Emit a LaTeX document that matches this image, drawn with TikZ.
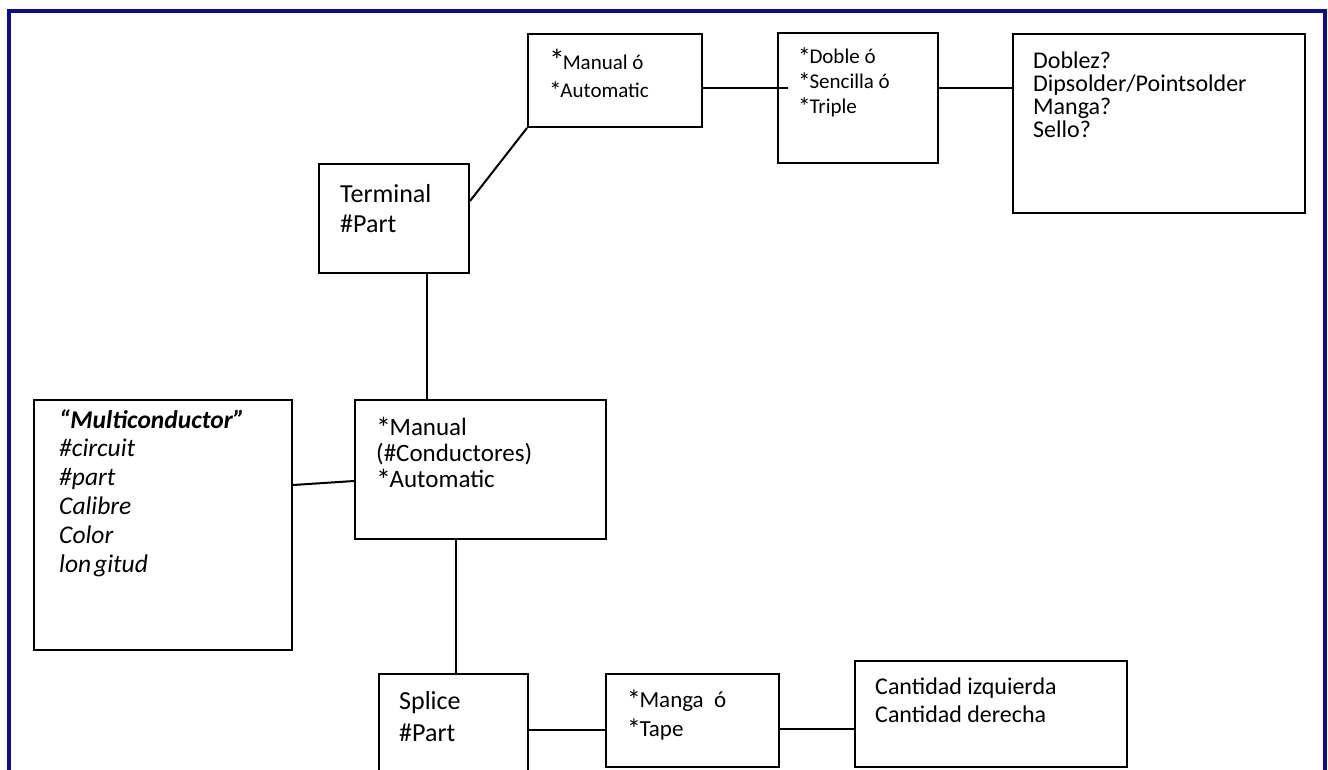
\documentclass[tikz,border=0pt]{standalone}
\usepackage{fontspec}
\usepackage{graphicx}
\setmainfont{Carlito}
\usetikzlibrary{calc}
\definecolor{framecol}{RGB}{12,12,140}
\newcommand{\myast}{\raisebox{-0.12em}{\scalebox{1.2}{*}}\kern-0.06em}
\newcommand{\myastbig}{\raisebox{-0.1em}{\scalebox{1.5}{*}}\kern-0.1em}
\tikzset{
  box/.style={draw=black, line width=2pt, rectangle, inner sep=0pt, anchor=north west},
  conn/.style={draw=black, line width=2pt},
  txt/.style={inner sep=0pt, anchor=base west},
  fr/.style={draw=framecol, line width=4pt},
}
\begin{document}
\begin{tikzpicture}[x=1pt,y=-1pt]
\useasboundingbox (0,0) rectangle (1328,769);
\clip (0,0) rectangle (1328,769);
\draw[fr] (9,10.5) rectangle (1324.5,800);

% boxes
\node[box, minimum width=174pt, minimum height=93pt]  (mo)     at (527,33)  {};
\node[box, minimum width=160pt, minimum height=130pt] (doble)  at (777,32)  {};
\node[box, minimum width=292pt, minimum height=179pt] (doblez) at (1012,33) {};
\node[box, minimum width=150pt, minimum height=109pt] (term)   at (318,163) {};
\node[box, minimum width=258pt, minimum height=250pt] (multi)  at (33,399)  {};
\node[box, minimum width=251pt, minimum height=139pt] (man)    at (354,399) {};
\node[box, minimum width=149pt, minimum height=127pt] (splice) at (378,673) {};
\node[box, minimum width=173pt, minimum height=93pt]  (manga)  at (605,673) {};
\node[box, minimum width=272pt, minimum height=106pt] (cant)   at (854,660) {};

% connectors
\draw[conn] ([yshift=17.5pt]term.east) -- (mo.south west);
\draw[conn] (mo.east) ++(0,7.5) coordinate (c1) -- ($(c1 -| doble.west)+(11,0)$);
\draw[conn] (doble.east) ++(0,-10) coordinate (c2) -- (c2 -| doblez.west);
\draw[conn] (term.south) ++(33,0) coordinate (c3) -- (c3 |- man.north);
\draw[conn] (multi.east) ++(0,-40) coordinate (c7) -- ([yshift=-11.5pt]man.west);
\draw[conn] (man.south) ++(-24.5,0) coordinate (c4) -- (c4 |- splice.north);
\draw[conn] (splice.east) ++(0,-7.5) coordinate (c5) -- (c5 -| manga.west);
\draw[conn] (manga.east) ++(0,8.5) coordinate (c6) -- (c6 -| cant.west);

% texts
\node[txt, font=\fontsize{21}{25}\selectfont] (mo0) at (549,69) {\myastbig Manual ó};
\node[txt, font=\fontsize{21}{25}\selectfont] (mo1) at (549,97) {\myast Automatic};

\foreach \t [count=\i from 0] in {{\myast Doble ó},{\myast Sencilla ó},{\myast Triple}}
  \node[txt, font=\fontsize{21}{25}\selectfont] (db\i) at (798,63+25*\i) {\t};

\foreach \t [count=\i from 0] in {{Doblez?},{Dipsolder/Pointsolder},{Manga?},{Sello?}}
  \node[txt, font=\fontsize{24}{28}\selectfont] (dz\i) at (1033,68+23.3*\i) {\t};

\node[txt, font=\fontsize{26}{30}\selectfont] (tm0) at (340,202) {Terminal};
\node[txt, font=\fontsize{26}{30}\selectfont] (tm1) at (340,232) {\#Part};

\node[txt, font=\fontsize{25.5}{29}\selectfont\bfseries\itshape] (mc0) at (59,428) {“Multiconductor”};
\foreach \t [count=\i from 1] in {{\#circuit},{\#part},{Calibre},{Color},{lon\kern3pt gitud}}
  \node[txt, font=\fontsize{25.5}{29}\selectfont\itshape] (mc\i) at (59,428+28.8*\i) {\t};

\node[txt, font=\fontsize{25}{29}\selectfont] (mn0) at (376,435) {\myast Manual};
\node[txt, font=\fontsize{25}{29}\selectfont] (mn1) at (376,461) {(\#Conductores)};
\node[txt, font=\fontsize{25}{29}\selectfont] (mn2) at (376,487) {\myast Automatic};

\node[txt, font=\fontsize{26}{30}\selectfont] (sp0) at (399,709) {Splice};
\node[txt, font=\fontsize{26}{30}\selectfont] (sp1) at (399,741) {\#Part};

\node[txt, font=\fontsize{23}{27}\selectfont] (mg0) at (627,707) {\myast Manga\ \ ó};
\node[txt, font=\fontsize{23}{27}\selectfont] (mg1) at (627,736) {\myast Tape};

\node[txt, font=\fontsize{24}{28}\selectfont] (ct0) at (875,694) {Cantidad izquierda};
\node[txt, font=\fontsize{24}{28}\selectfont] (ct1) at (875,722) {Cantidad derecha};
\end{tikzpicture}
\end{document}
